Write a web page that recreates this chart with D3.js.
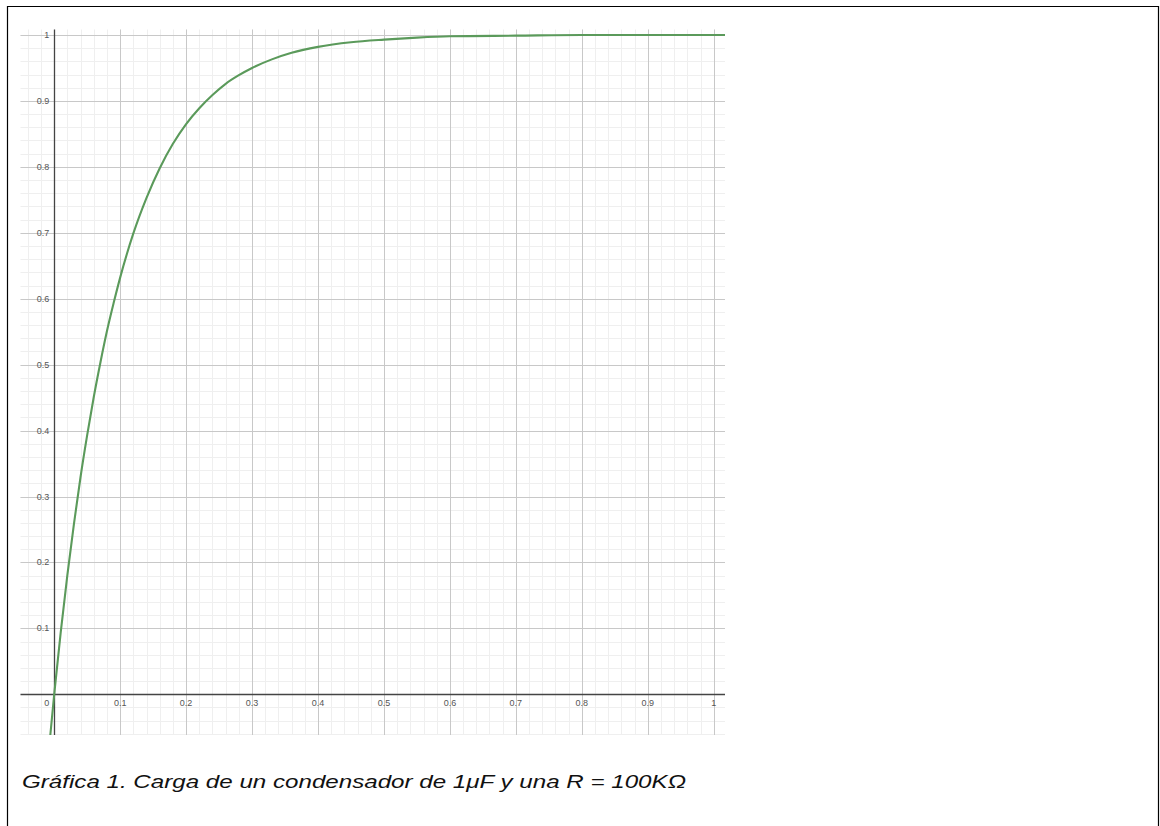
<!DOCTYPE html>
<html lang="es">
<head>
    <meta charset="UTF-8">
    <title>Gráfica 1</title>
    <script src="https://d3js.org/d3.v7.min.js"></script>
    <style>
        body {
            margin: 0;
            background: #fff;
            overflow: hidden;
        }
        svg {
            display: block;
        }
        .minor line { stroke: #efefef; stroke-width: 1px; }
        .major line { stroke: #c8c8c8; stroke-width: 1px; }
        .axis-line { stroke: #444; stroke-width: 1.3px; }
        .tick-label {
            font: 9px "Liberation Sans", Arial, sans-serif;
            fill: #555;
        }
        .caption {
            font: italic 18.5px "Liberation Sans", Arial, sans-serif;
            fill: #111;
        }
    </style>
</head>
<body>
<svg width="1160" height="826"></svg>
<script>
    // tiempo (s) y carga normalizada
    const tiempo = [-0.01, 0, 0.01, 0.02, 0.03, 0.04, 0.05, 0.06, 0.07, 0.08, 0.09, 0.10,
        0.12, 0.14, 0.16, 0.18, 0.20, 0.22, 0.24, 0.26, 0.28, 0.30, 0.33, 0.36, 0.40,
        0.45, 0.50, 0.55, 0.60, 0.70, 0.80, 0.90, 1.02];
    const carga = [-0.105, 0, 0.095, 0.181, 0.259, 0.330, 0.393, 0.451, 0.503, 0.551, 0.593, 0.632,
        0.699, 0.753, 0.798, 0.835, 0.865, 0.889, 0.909, 0.926, 0.939, 0.950, 0.963, 0.973, 0.982,
        0.989, 0.993, 0.996, 0.998, 0.999, 1.0, 1.0, 1.0];

    const xTicks = [0.1, 0.2, 0.3, 0.4, 0.5, 0.6, 0.7, 0.8, 0.9, 1];
    const yTicks = [0.1, 0.2, 0.3, 0.4, 0.5, 0.6, 0.7, 0.8, 0.9, 1];
    const xMinor = d3.range(-4, 51).map(i => i * 0.02).filter(v => v > -0.05 && v < 1.017);
    const yMinor = d3.range(-3, 51).map(i => i * 0.02).filter(v => v > -0.061 && v < 1.008);

    const caption = "Gráfica 1. Carga de un condensador de 1μF y una R = 100KΩ";

    const svg = d3.select("svg");

    // marco de la página
    svg.append("path")
        .attr("d", "M7.5,830 V6.5 H1158.5 V830")
        .attr("fill", "none")
        .attr("stroke", "#000")
        .attr("stroke-width", 1.2);

    const plot = { left: 20.5, right: 725, top: 29.5, bottom: 735 };

    const x = d3.scaleLinear().domain([0, 1]).range([54.2, 713.7]);
    const y = d3.scaleLinear().domain([0, 1]).range([694.3, 35]);

    svg.append("defs").append("clipPath").attr("id", "clip")
        .append("rect")
        .attr("x", plot.left).attr("y", plot.top)
        .attr("width", plot.right - plot.left).attr("height", plot.bottom - plot.top);

    const g = svg.append("g");

    // rejilla secundaria
    const minor = g.append("g").attr("class", "minor");
    minor.selectAll(".vx").data(xMinor).enter().append("line")
        .attr("x1", d => Math.round(x(d)) + 0.5).attr("x2", d => Math.round(x(d)) + 0.5)
        .attr("y1", plot.top).attr("y2", plot.bottom);
    minor.selectAll(".hy").data(yMinor).enter().append("line")
        .attr("y1", d => Math.round(y(d)) + 0.5).attr("y2", d => Math.round(y(d)) + 0.5)
        .attr("x1", plot.left).attr("x2", plot.right);

    // rejilla principal
    const major = g.append("g").attr("class", "major");
    major.selectAll(".vx").data(xTicks).enter().append("line")
        .attr("x1", d => Math.round(x(d)) + 0.5).attr("x2", d => Math.round(x(d)) + 0.5)
        .attr("y1", plot.top).attr("y2", plot.bottom);
    major.selectAll(".hy").data(yTicks).enter().append("line")
        .attr("y1", d => Math.round(y(d)) + 0.5).attr("y2", d => Math.round(y(d)) + 0.5)
        .attr("x1", plot.left).attr("x2", plot.right);

    // ejes
    g.append("line").attr("class", "axis-line")
        .attr("x1", plot.left).attr("x2", plot.right)
        .attr("y1", Math.round(y(0)) + 0.5).attr("y2", Math.round(y(0)) + 0.5);
    g.append("line").attr("class", "axis-line")
        .attr("y1", plot.top).attr("y2", plot.bottom)
        .attr("x1", Math.round(x(0)) + 0.5).attr("x2", Math.round(x(0)) + 0.5);

    // etiquetas
    const labels = g.append("g");
    const fmt = d3.format("");
    labels.selectAll(".xl").data(xTicks).enter().append("text")
        .attr("class", "tick-label")
        .attr("x", d => x(d)).attr("y", y(0) + 12)
        .attr("text-anchor", "middle")
        .text(d => fmt(d));
    labels.append("text")
        .attr("class", "tick-label")
        .attr("x", x(0) - 5).attr("y", y(0) + 12)
        .attr("text-anchor", "end")
        .text("0");
    labels.selectAll(".yl").data(yTicks).enter().append("text")
        .attr("class", "tick-label")
        .attr("x", x(0) - 5).attr("y", d => y(d) + 3)
        .attr("text-anchor", "end")
        .text(d => fmt(d));

    // curva de carga
    const line = d3.line()
        .x((d, i) => x(tiempo[i]))
        .y(d => y(d))
        .curve(d3.curveMonotoneX);

    g.append("path")
        .datum(carga)
        .attr("clip-path", "url(#clip)")
        .attr("fill", "none")
        .attr("stroke", "#5b9a5b")
        .attr("stroke-width", 2.1)
        .attr("d", line);

    svg.append("text")
        .attr("class", "caption")
        .attr("x", 22)
        .attr("y", 787.5)
        .attr("textLength", 664)
        .attr("lengthAdjust", "spacingAndGlyphs")
        .text(caption);
</script>
</body>
</html>
